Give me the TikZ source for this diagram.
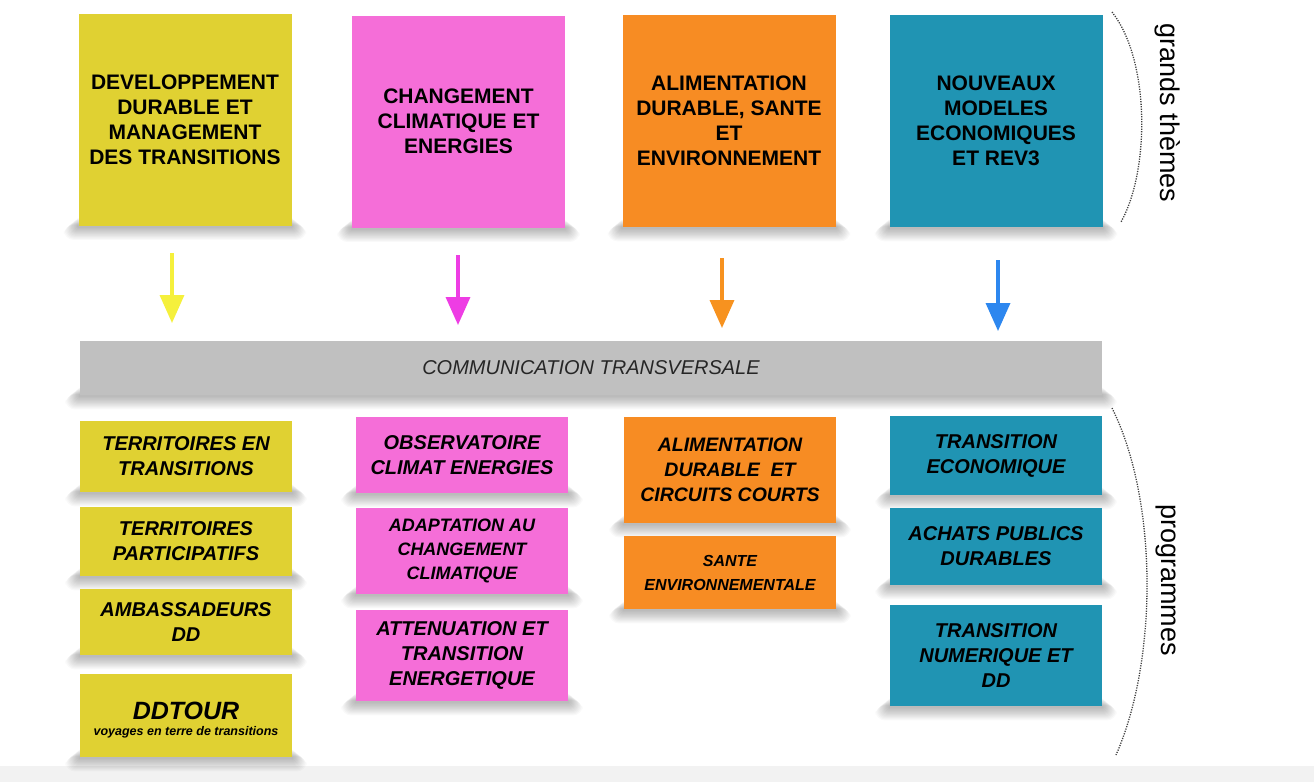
\documentclass[tikz,border=0pt]{standalone}
\usepackage{fontspec}
\setmainfont{Liberation Sans}
\usetikzlibrary{arrows.meta,backgrounds,calc}
\definecolor{cyel}{HTML}{E0D132}
\definecolor{cpink}{HTML}{F56ED8}
\definecolor{corg}{HTML}{F78C23}
\definecolor{cteal}{HTML}{2094B3}
\definecolor{cbar}{HTML}{C0C0C0}
\definecolor{ayel}{HTML}{F5F03C}
\definecolor{apink}{HTML}{EE3DE4}
\definecolor{aorg}{HTML}{F7921F}
\definecolor{ablue}{HTML}{2D87EF}
\tikzset{
 card/.style={rectangle, inner sep=0pt, align=center, text=black},
 theme/.style={card, font=\bfseries\fontsize{21}{25}\selectfont, minimum width=213pt, minimum height=212pt},
 prog/.style={card, font=\bfseries\itshape\fontsize{20}{25}\selectfont, minimum width=212pt},
 down/.style={line width=3.5pt, -{Triangle[width=24pt,length=28pt]}},
 bracket/.style={line width=1.3pt, black!75, dash pattern=on 1.2pt off 1.3pt},
 side/.style={rotate=-90, font=\fontsize{27}{30}\selectfont}
}
\newcommand{\dropshade}[1]{%
 \begin{scope}[on background layer]
 \foreach \k in {1,...,12}{
   \fill[black,opacity=0.022,rounded corners=0.8*\k pt] ($(#1.south west)+(-1.2*\k,-8+0.6*\k)$) rectangle ($(#1.south east)+(1.2*\k,1+1.1*\k)$);
 }
 \end{scope}}
\begin{document}
\begin{tikzpicture}[x=1pt,y=-1pt]
\useasboundingbox (0,0) rectangle (1314,782);
\begin{scope}[on background layer]
\fill[white] (0,0) rectangle (1314,782);
\fill[black!5] (0,766) rectangle (1314,782);
\end{scope}

% grands themes
\node[theme, fill=cyel]  (t1) at (185,119.5) {DEVELOPPEMENT\\DURABLE ET\\MANAGEMENT\\DES TRANSITIONS};
\node[theme, fill=cpink] (t2) at (458.5,121.5) {CHANGEMENT\\CLIMATIQUE ET\\ENERGIES};
\node[theme, fill=corg]  (t3) at (729,121) {ALIMENTATION\\DURABLE, SANTE\\ET\\ENVIRONNEMENT};
\node[theme, fill=cteal] (t4) at (996,121) {NOUVEAUX\\MODELES\\ECONOMIQUES\\ET REV3};

% communication bar
\node[card, fill=cbar, minimum width=1022pt, minimum height=54pt,
      font=\itshape\fontsize{20}{24}\selectfont, text=black!85] (com) at (591,368) {COMMUNICATION TRANSVERSALE};

% arrows
\coordinate (a1s) at (172,253); \coordinate (a1e) at (172,323);
\coordinate (a2s) at (458,255); \coordinate (a2e) at (458,325);
\coordinate (a3s) at (722,258); \coordinate (a3e) at (722,328);
\coordinate (a4s) at (998,260); \coordinate (a4e) at (998,331);
\draw[down, ayel]  (a1s) -- (a1e);
\draw[down, apink] (a2s) -- (a2e);
\draw[down, aorg]  (a3s) -- (a3e);
\draw[down, ablue] (a4s) -- (a4e);

% programmes - yellow
\node[prog, fill=cyel, minimum height=71pt] (p11) at (186,456.5) {TERRITOIRES EN\\TRANSITIONS};
\node[prog, fill=cyel, minimum height=69pt] (p12) at (186,541.5) {TERRITOIRES\\PARTICIPATIFS};
\node[prog, fill=cyel, minimum height=66pt] (p13) at (186,622) {AMBASSADEURS\\DD};
\node[prog, fill=cyel, minimum height=83pt] (p14) at (186,715.5) {};
\node[font=\bfseries\itshape\fontsize{25}{26}\selectfont] (p14a) at (186,711) {DDTOUR};
\node[font=\bfseries\itshape\fontsize{12.5}{14}\selectfont] (p14b) at (186,732) {voyages en terre de transitions};

% programmes - pink
\node[prog, fill=cpink, minimum height=76pt] (p21) at (462,455) {OBSERVATOIRE\\CLIMAT ENERGIES};
\node[prog, fill=cpink, minimum height=86pt, font=\bfseries\itshape\fontsize{18}{24}\selectfont] (p22) at (462,551) {ADAPTATION AU\\CHANGEMENT\\CLIMATIQUE};
\node[prog, fill=cpink, minimum height=91pt] (p23) at (462,655.5) {ATTENUATION ET\\TRANSITION\\ENERGETIQUE};

% programmes - orange
\node[prog, fill=corg, minimum height=106pt, font=\bfseries\itshape\fontsize{19.5}{25}\selectfont] (p31) at (730,470) {ALIMENTATION\\DURABLE~~ET\\CIRCUITS COURTS};
\node[prog, fill=corg, minimum height=73pt, font=\bfseries\itshape\fontsize{16}{24}\selectfont] (p32) at (730,572.5) {SANTE\\ENVIRONNEMENTALE};

% programmes - teal
\node[prog, fill=cteal, minimum height=79pt] (p41) at (996,455.5) {TRANSITION\\ECONOMIQUE};
\node[prog, fill=cteal, minimum height=77pt] (p42) at (996,546.5) {ACHATS PUBLICS\\DURABLES};
\node[prog, fill=cteal, minimum height=101pt] (p43) at (996,655.5) {TRANSITION\\NUMERIQUE ET\\DD};

% shadows
\foreach \n in {t1,t2,t3,t4,com,p11,p12,p13,p14,p21,p22,p23,p31,p32,p41,p42,p43}{\dropshade{\n}}

% side brackets and labels
\draw[bracket] (1112,12) .. controls (1150,60) and (1150,170) .. (1121,222);
\draw[bracket] (1112,408) .. controls (1158,500) and (1158,660) .. (1116,755);
\node[side] (lg) at (1168,113) {grands thèmes};
\node[side] (lp) at (1166,580) {programmes};
\end{tikzpicture}
\end{document}
